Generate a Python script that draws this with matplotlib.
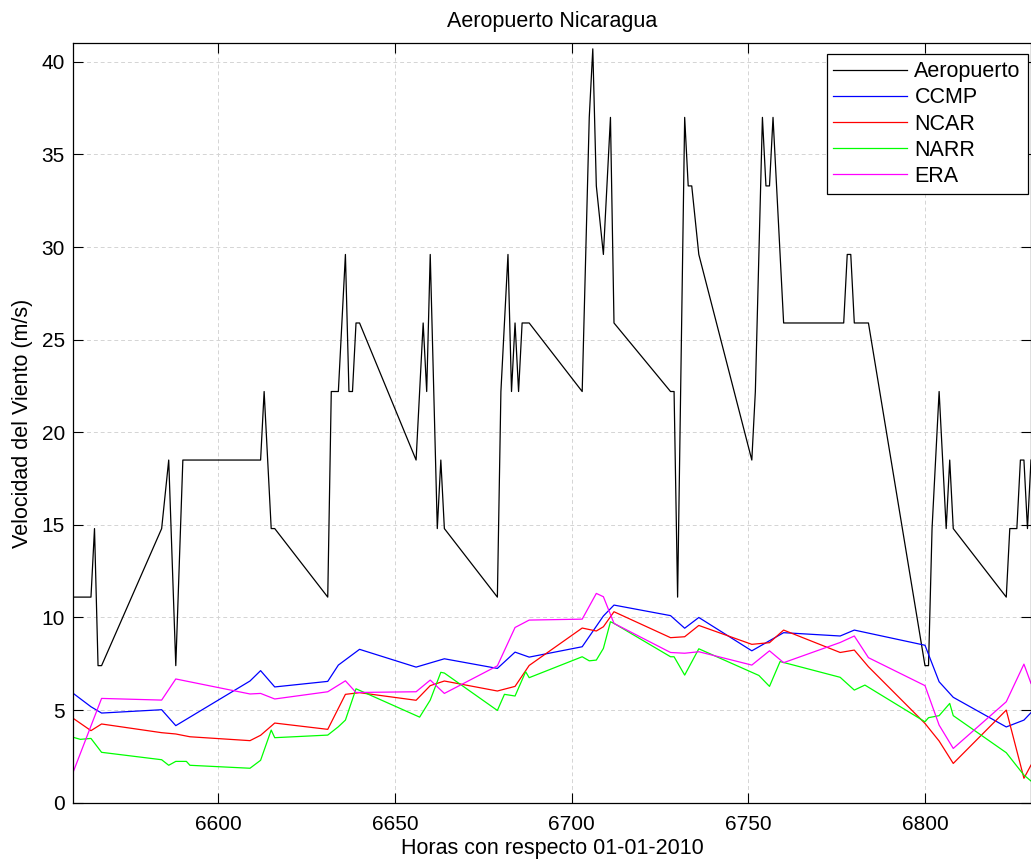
import matplotlib
matplotlib.use("Agg")
import matplotlib.pyplot as plt

# ---- data ----
t_aero = [6559, 6564, 6565, 6566, 6567, 6584, 6586, 6588, 6590, 6612, 6613, 6615, 6616, 6631,
          6632, 6634, 6636, 6637, 6638, 6639, 6640, 6656, 6658, 6659, 6660, 6662, 6663, 6664,
          6679, 6680, 6682, 6683, 6684, 6685, 6686, 6688, 6703, 6705, 6706, 6707, 6709, 6711,
          6712, 6728, 6729, 6730, 6732, 6733, 6734, 6736, 6751, 6752, 6754, 6755, 6756, 6757,
          6760, 6777, 6778, 6779, 6780, 6784, 6800, 6801, 6802, 6804, 6806, 6807, 6808, 6823,
          6824, 6826, 6827, 6828, 6829, 6830]
v_aero = [11.1, 11.1, 14.8, 7.4, 7.4, 14.8, 18.5, 7.4, 18.5, 18.5, 22.2, 14.8, 14.8, 11.1,
          22.2, 22.2, 29.6, 22.2, 22.2, 25.9, 25.9, 18.5, 25.9, 22.2, 29.6, 14.8, 18.5, 14.8,
          11.1, 22.2, 29.6, 22.2, 25.9, 22.2, 25.9, 25.9, 22.2, 37.0, 40.7, 33.3, 29.6, 37.0,
          25.9, 22.2, 22.2, 11.1, 37.0, 33.3, 33.3, 29.6, 18.5, 22.2, 37.0, 33.3, 33.3, 37.0,
          25.9, 25.9, 29.6, 29.6, 25.9, 25.9, 7.4, 7.4, 14.8, 22.2, 14.8, 18.5, 14.8, 11.1,
          14.8, 14.8, 18.5, 18.5, 14.8, 18.5]

t_ccmp = [6559, 6564, 6567, 6584, 6588, 6609, 6612, 6616, 6631, 6634, 6640, 6656, 6664, 6679,
          6684, 6688, 6703, 6709, 6712, 6728, 6732, 6736, 6751, 6760, 6776, 6780, 6800, 6804,
          6808, 6823, 6828, 6830]
v_ccmp = [5.9, 5.18, 4.84, 5.02, 4.16, 6.57, 7.13, 6.25, 6.55, 7.43, 8.28, 7.32, 7.77, 7.25,
          8.13, 7.86, 8.42, 10.08, 10.67, 10.1, 9.42, 10.0, 8.2, 9.18, 9.0, 9.32, 8.5, 6.53,
          5.69, 4.09, 4.46, 4.86]

t_ncar = [6559, 6564, 6567, 6584, 6588, 6592, 6609, 6612, 6616, 6631, 6636, 6640, 6656, 6660,
          6664, 6679, 6684, 6688, 6703, 6707, 6709, 6712, 6728, 6732, 6736, 6751, 6756, 6760,
          6776, 6780, 6784, 6800, 6804, 6808, 6823, 6828, 6830]
v_ncar = [4.55, 3.89, 4.25, 3.78, 3.71, 3.56, 3.35, 3.64, 4.3, 3.96, 5.85, 5.94, 5.53, 6.32,
          6.57, 6.03, 6.28, 7.41, 9.43, 9.27, 9.5, 10.31, 8.91, 8.96, 9.57, 8.55, 8.64, 9.32,
          8.11, 8.24, 7.34, 4.28, 3.33, 2.12, 5.0, 1.32, 2.03]

t_narr = [6559, 6561, 6564, 6567, 6584, 6586, 6588, 6591, 6592, 6609, 6612, 6615, 6616, 6631,
          6634, 6636, 6639, 6657, 6660, 6663, 6664, 6679, 6681, 6684, 6687, 6688, 6703, 6705,
          6707, 6709, 6711, 6712, 6728, 6729, 6732, 6736, 6753, 6756, 6759, 6776, 6780, 6783,
          6800, 6801, 6804, 6807, 6808, 6823, 6828, 6830]
v_narr = [3.53, 3.42, 3.47, 2.72, 2.32, 2.02, 2.23, 2.23, 2.02, 1.86, 2.29, 3.92, 3.51, 3.65,
          4.1, 4.46, 6.15, 4.62, 5.54, 7.04, 7.0, 4.98, 5.85, 5.76, 7.07, 6.75, 7.88, 7.66,
          7.7, 8.33, 9.77, 9.68, 7.88, 7.88, 6.89, 8.31, 6.87, 6.28, 7.62, 6.77, 6.08, 6.35,
          4.37, 4.59, 4.7, 5.36, 4.7, 2.7, 1.49, 1.17]

t_era = [6559, 6567, 6584, 6588, 6609, 6612, 6616, 6631, 6636, 6639, 6656, 6660, 6664, 6679,
         6684, 6688, 6703, 6707, 6709, 6712, 6728, 6732, 6736, 6751, 6756, 6760, 6776, 6780,
         6784, 6800, 6804, 6808, 6823, 6828, 6830]
v_era = [1.67, 5.63, 5.54, 6.68, 5.87, 5.9, 5.6, 5.99, 6.58, 5.95, 5.99, 6.62, 5.9, 7.39,
         9.46, 9.86, 9.91, 11.3, 11.12, 9.68, 8.11, 8.07, 8.15, 7.43, 8.2, 7.56, 8.65, 9.0,
         7.83, 6.32, 4.19, 2.93, 5.45, 7.48, 6.44]

labels = ["Aeropuerto", "CCMP", "NCAR", "NARR", "ERA"]
colors = ["#000000", "#0000ff", "#ff0000", "#00ff00", "#ff00ff"]

x_ticks = [6600, 6650, 6700, 6750, 6800]
y_ticks = [0, 5, 10, 15, 20, 25, 30, 35, 40]

# ---- figure ----
plt.rcParams['font.family'] = ['Liberation Sans', 'DejaVu Sans']
W, H = 1031, 859
fig = plt.figure(figsize=(W / 100, H / 100), dpi=100)
ax = fig.add_axes([73.3 / W, 1 - 802.7 / H, (W - 73.3) / W, (802.7 - 43.3) / H])

series = [(t_aero, v_aero), (t_ccmp, v_ccmp), (t_ncar, v_ncar), (t_narr, v_narr), (t_era, v_era)]
for (t, v), lab, c in zip(series, labels, colors):
    ax.plot(t, v, color=c, lw=0.9, label=lab)

ax.set_xlim(6559, 6830)
ax.set_ylim(0, 41)
ax.set_xticks(x_ticks)
ax.set_yticks(y_ticks)
ax.grid(True, linestyle=(0, (4, 3)), color='#d4d4d4', lw=0.7)
ax.set_axisbelow(True)
ax.tick_params(direction='in', top=True, right=True, length=7, width=0.8,
               labelsize=15, colors='black')
ax.tick_params(axis='x', pad=9)
ax.tick_params(axis='y', pad=6)
for s in ax.spines.values():
    s.set_linewidth(0.9)
    s.set_color('black')

ax.set_title("Aeropuerto Nicaragua", fontsize=15.5, pad=12)
ax.set_xlabel("Horas con respecto 01-01-2010", fontsize=15.5, labelpad=3)
ax.set_ylabel("Velocidad del Viento (m/s)", fontsize=15.5, labelpad=6)

leg = ax.legend(loc='upper right', bbox_to_anchor=(1027.7 / W, 1 - 54.3 / H),
                bbox_transform=fig.transFigure, fontsize=15.5,
                fancybox=False, framealpha=1, edgecolor='black', handlelength=3.4,
                handletextpad=0.36, labelspacing=0.24, borderpad=0.32, borderaxespad=0)
leg.get_frame().set_linewidth(0.9)

fig.savefig("out.png", dpi=100)
